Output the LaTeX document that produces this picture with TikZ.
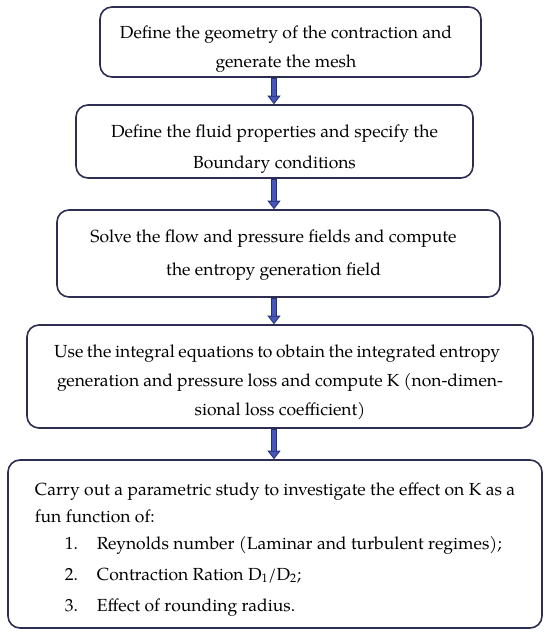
\documentclass[tikz,border=0pt]{standalone}
\usepackage{fontspec}
\setmainfont{TeX Gyre Pagella}
\usetikzlibrary{arrows.meta}
\definecolor{boxline}{HTML}{2D2D52}
\definecolor{arrowfill}{HTML}{4656BC}
\definecolor{arrowline}{HTML}{24306E}
\newcommand{\topstrut}[1]{\rule{0pt}{#1}}
\begin{document}
\begin{tikzpicture}[x=1pt,y=-1pt,
  stepbox/.style={draw=boxline, line width=1.6pt, rounded corners=12pt,
    align=center, inner sep=0pt, font=\fontsize{17.5}{29}\selectfont},
  fatarrow/.style={draw=arrowline, line width=5.4pt,
    -{Triangle[width=13pt,length=8.5pt,line width=0.8pt,fill=arrowfill]},
    postaction={draw=arrowfill, line width=3.6pt, -, shorten >=8.5pt, shorten <=0.8pt}}
  ]
\useasboundingbox (0,0) rectangle (550,634);
\node[stepbox, minimum width=381pt, minimum height=70pt] (b1) at (290.5,42)
  {\topstrut{26pt}Define the geometry of the contraction and\hspace*{9pt}\\generate the mesh\hspace*{9pt}};
\node[stepbox, minimum width=397pt, minimum height=73pt, font=\fontsize{17.5}{31}\selectfont] (b2) at (274.5,141.5)
  {\topstrut{27pt}Define the fluid properties and specify the\\Boundary conditions};
\node[stepbox, minimum width=443pt, minimum height=87pt, font=\fontsize{17.5}{33}\selectfont] (b3) at (278.5,253.5)
  {\topstrut{15pt}Solve the flow and pressure fields and compute\hspace*{10pt}\\the entropy generation field\hspace*{10pt}};
\node[stepbox, minimum width=506pt, minimum height=103pt] (b4) at (280,376.5)
  {\topstrut{24pt}\makebox[446pt][s]{Use the integral equations to obtain the integrated entropy}\hspace*{6pt}\\
   \makebox[446pt][s]{generation and pressure loss and compute K (non-dimen-}\hspace*{6pt}\\
   sional loss coefficient)};
\node[stepbox, minimum width=534pt, minimum height=168pt, align=left,
      font=\fontsize{17.5}{27}\selectfont] (b5) at (275,544)
  {\topstrut{23pt}Carry out a parametric study to investigate the effect on K as a\\
   fun function of:\\
   \hspace*{30pt}\makebox[32pt][l]{1.}Reynolds number (Laminar and turbulent regimes);\\[4pt]
   \hspace*{30pt}\makebox[32pt][l]{2.}Contraction Ration D\textsubscript{1}/D\textsubscript{2};\\[4pt]
   \hspace*{30pt}\makebox[32pt][l]{3.}Effect of rounding radius.};
\coordinate (ax) at (274,0);
\draw[fatarrow] (b1.south -| ax) -- (b2.north -| ax);
\draw[fatarrow] (b2.south -| ax) -- (b3.north -| ax);
\draw[fatarrow] (b3.south -| ax) -- (b4.north -| ax);
\draw[fatarrow] (b4.south -| ax) -- (b5.north -| ax);
\end{tikzpicture}
\end{document}
